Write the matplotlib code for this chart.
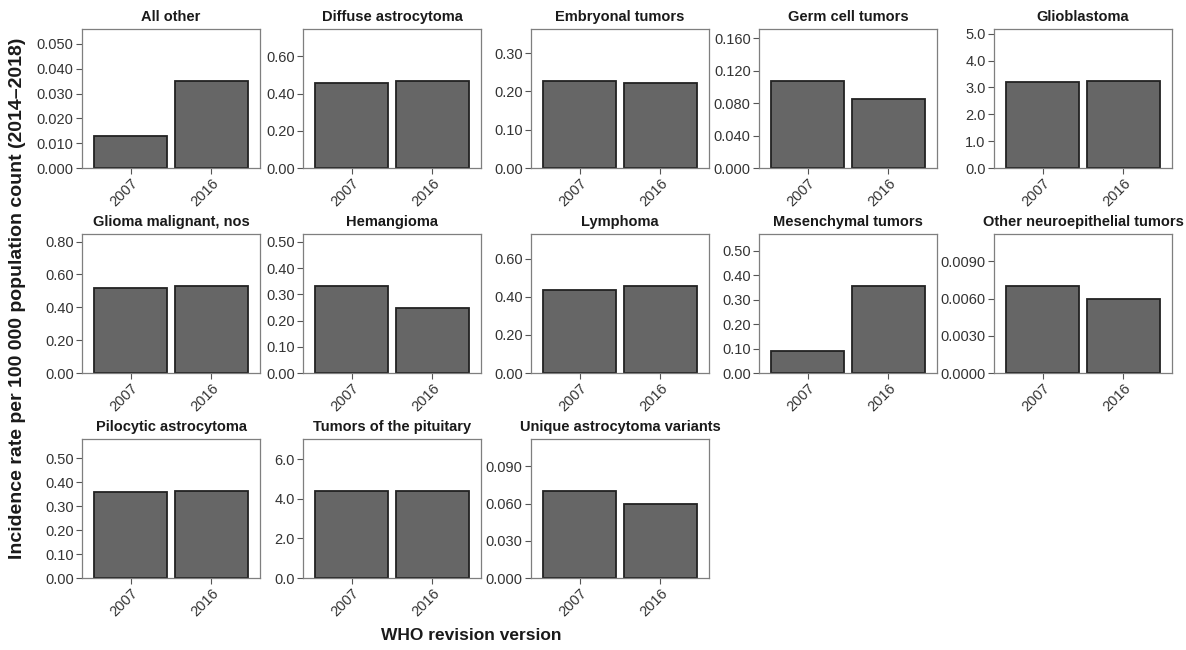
import matplotlib
matplotlib.use('Agg')
import matplotlib.pyplot as plt
from matplotlib.ticker import MultipleLocator, FormatStrFormatter

# data
tumors = ['All other', 'Diffuse astrocytoma', 'Embryonal tumors', 'Germ cell tumors',
          'Glioblastoma', 'Glioma malignant, nos', 'Hemangioma', 'Lymphoma',
          'Mesenchymal tumors', 'Other neuroepithelial tumors', 'Pilocytic astrocytoma',
          'Tumors of the pituitary', 'Unique astrocytoma variants']
versions = ['2007', '2016']
rate_2007 = [0.013, 0.456, 0.227, 0.107, 3.22, 0.517, 0.331, 0.438, 0.091, 0.0070, 0.360, 4.39, 0.070]
rate_2016 = [0.035, 0.467, 0.222, 0.085, 3.235, 0.529, 0.248, 0.456, 0.355, 0.0060, 0.363, 4.39, 0.060]
tick_step = [0.010, 0.20, 0.10, 0.040, 1.0, 0.20, 0.10, 0.20, 0.10, 0.0030, 0.10, 2.0, 0.030]
tick_decimals = [3, 2, 2, 3, 1, 2, 2, 2, 2, 4, 2, 1, 3]

plt.rcParams['font.family'] = ['Liberation Sans', 'DejaVu Sans']

W, H = 1186, 650
fig = plt.figure(figsize=(W / 100, H / 100), dpi=100)

col_left = [82, 303, 531, 759, 994]
row_top = [29, 234, 439]
pw, ph = 178, 139

for i, name in enumerate(tumors):
    r, c = divmod(i, 5)
    ax = fig.add_axes([col_left[c] / W, 1 - (row_top[r] + ph) / H, pw / W, ph / H])
    vals = [rate_2007[i], rate_2016[i]]
    ax.bar([1, 2], vals, width=0.9, color='#666666', edgecolor='#222222', linewidth=1.3)
    ax.set_xlim(0.4, 2.6)
    ax.set_ylim(0, max(vals) * 1.6)
    ax.set_xticks([1, 2])
    ax.set_xticklabels(versions, rotation=45, ha='right', va='top', rotation_mode='anchor')
    ax.yaxis.set_major_locator(MultipleLocator(tick_step[i]))
    ax.yaxis.set_major_formatter(FormatStrFormatter('%.' + str(tick_decimals[i]) + 'f'))
    ax.tick_params(colors='#555555', labelcolor='#333333', labelsize=10.5, length=4, width=0.8, pad=2)
    for s in ax.spines.values():
        s.set_color('#7f7f7f')
        s.set_linewidth(0.9)
    ax.set_title(name, fontsize=10.5, fontweight='bold', color='#1a1a1a', pad=6)

fig.text(18 / W, 1 - 298 / H, 'Incidence rate per 100 000 population count (2014\u20132018)',
         rotation=90, ha='center', va='center', fontsize=14, fontweight='bold', color='#1a1a1a')
fig.text(471 / W, 1 - 636 / H, 'WHO revision version', ha='center', va='center',
         fontsize=12.5, fontweight='bold', color='#1a1a1a')

fig.savefig('out.png', dpi=100)
